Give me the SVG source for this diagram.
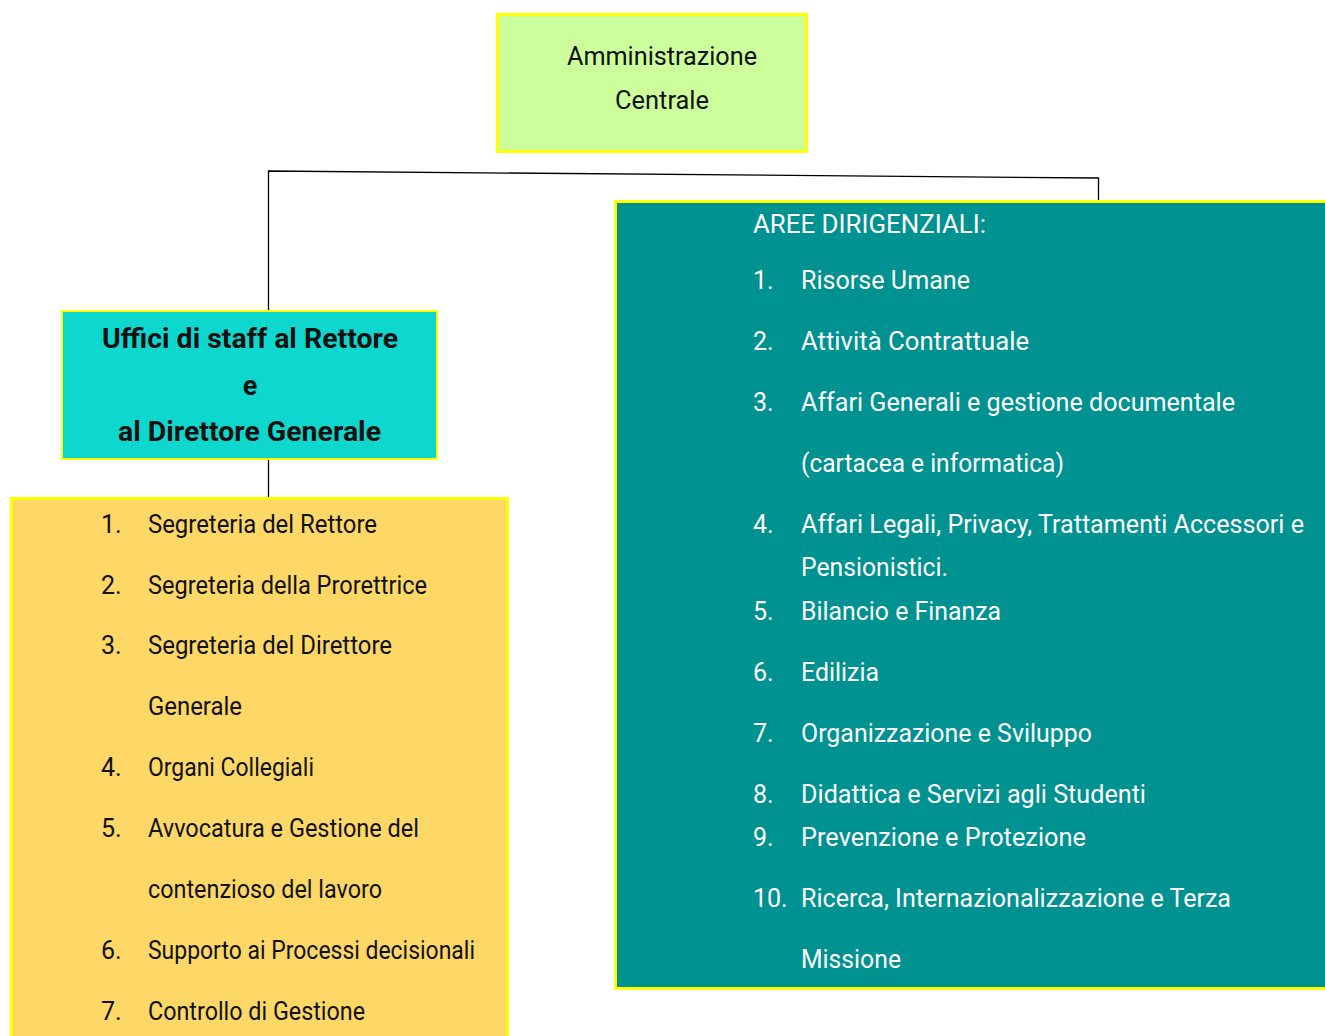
<svg xmlns="http://www.w3.org/2000/svg" width="1325" height="1036" viewBox="0 0 1325 1036">
  <style>
    .box { stroke: #ffff00; }
    .t { font-family: Roboto, "Open Sans", "Liberation Sans", sans-serif; font-size: 25px; }
    .dark { fill: #111111; }
    .light { fill: #ffffff; }
    .bold { font-weight: bold; font-size: 27px; }
    .wire { stroke: #000000; stroke-width: 1.3; fill: none; }
  </style>
  <rect width="1325" height="1036" fill="#ffffff"/>

  <g id="connectors">
    <path class="wire" d="M268.5 310 V171 L1098.5 178 V200"/>
    <path class="wire" d="M268.5 460 V497"/>
  </g>

  <g id="amministrazione-centrale">
    <rect class="box" x="497.5" y="14.5" width="309" height="137" fill="#ccff9c" stroke-width="3"/>
    <text class="t dark" x="662" y="65" text-anchor="middle" textLength="190" lengthAdjust="spacingAndGlyphs">Amministrazione</text>
    <text class="t dark" x="662" y="109" text-anchor="middle" textLength="94" lengthAdjust="spacingAndGlyphs">Centrale</text>
  </g>

  <g id="uffici-staff">
    <rect class="box" x="62" y="311" width="375" height="148" fill="#0ed8ce" stroke-width="2"/>
    <text class="t bold dark" x="102" y="348" textLength="296" lengthAdjust="spacingAndGlyphs">Uffici di staff al Rettore</text>
    <text class="t bold dark" x="250" y="395" text-anchor="middle">e</text>
    <text class="t bold dark" x="118" y="441" textLength="263" lengthAdjust="spacingAndGlyphs">al Direttore Generale</text>
  </g>

  <g id="elenco-uffici">
    <rect class="box" x="11.5" y="498.5" width="496" height="560" fill="#fdd866" stroke-width="3"/>
    <g class="t dark">
      <text x="101" y="533">1.</text>
      <text x="148" y="533" textLength="229" lengthAdjust="spacingAndGlyphs">Segreteria del Rettore</text>
      <text x="101" y="594">2.</text>
      <text x="148" y="594" textLength="279" lengthAdjust="spacingAndGlyphs">Segreteria della Prorettrice</text>
      <text x="101" y="654">3.</text>
      <text x="148" y="654" textLength="244" lengthAdjust="spacingAndGlyphs">Segreteria del Direttore</text>
      <text x="148" y="715" textLength="94" lengthAdjust="spacingAndGlyphs">Generale</text>
      <text x="101" y="776">4.</text>
      <text x="148" y="776" textLength="166" lengthAdjust="spacingAndGlyphs">Organi Collegiali</text>
      <text x="101" y="837">5.</text>
      <text x="148" y="837" textLength="271" lengthAdjust="spacingAndGlyphs">Avvocatura e Gestione del</text>
      <text x="148" y="898" textLength="234" lengthAdjust="spacingAndGlyphs">contenzioso del lavoro</text>
      <text x="101" y="959">6.</text>
      <text x="148" y="959" textLength="327" lengthAdjust="spacingAndGlyphs">Supporto ai Processi decisionali</text>
      <text x="101" y="1020">7.</text>
      <text x="148" y="1020" textLength="217" lengthAdjust="spacingAndGlyphs">Controllo di Gestione</text>
    </g>
  </g>

  <g id="aree-dirigenziali">
    <rect class="box" x="615.5" y="201.5" width="720" height="787" fill="#009191" stroke-width="3"/>
    <g class="t light">
      <text x="753" y="233" textLength="233" lengthAdjust="spacingAndGlyphs">AREE DIRIGENZIALI:</text>
      <text x="753" y="289">1.</text>
      <text x="801" y="289" textLength="169" lengthAdjust="spacingAndGlyphs">Risorse Umane</text>
      <text x="753" y="350">2.</text>
      <text x="801" y="350" textLength="228" lengthAdjust="spacingAndGlyphs">Attività Contrattuale</text>
      <text x="753" y="411">3.</text>
      <text x="801" y="411" textLength="434" lengthAdjust="spacingAndGlyphs">Affari Generali e gestione documentale</text>
      <text x="801" y="472" textLength="263" lengthAdjust="spacingAndGlyphs">(cartacea e informatica)</text>
      <text x="753" y="533">4.</text>
      <text x="801" y="533" textLength="503" lengthAdjust="spacingAndGlyphs">Affari Legali, Privacy, Trattamenti Accessori e</text>
      <text x="801" y="576" textLength="147" lengthAdjust="spacingAndGlyphs">Pensionistici.</text>
      <text x="753" y="620">5.</text>
      <text x="801" y="620" textLength="200" lengthAdjust="spacingAndGlyphs">Bilancio e Finanza</text>
      <text x="753" y="681">6.</text>
      <text x="801" y="681" textLength="78" lengthAdjust="spacingAndGlyphs">Edilizia</text>
      <text x="753" y="742">7.</text>
      <text x="801" y="742" textLength="291" lengthAdjust="spacingAndGlyphs">Organizzazione e Sviluppo</text>
      <text x="753" y="803">8.</text>
      <text x="801" y="803" textLength="345" lengthAdjust="spacingAndGlyphs">Didattica e Servizi agli Studenti</text>
      <text x="753" y="846">9.</text>
      <text x="801" y="846" textLength="285" lengthAdjust="spacingAndGlyphs">Prevenzione e Protezione</text>
      <text x="753" y="907">10.</text>
      <text x="801" y="907" textLength="430" lengthAdjust="spacingAndGlyphs">Ricerca, Internazionalizzazione e Terza</text>
      <text x="801" y="968" textLength="100" lengthAdjust="spacingAndGlyphs">Missione</text>
    </g>
  </g>
</svg>
